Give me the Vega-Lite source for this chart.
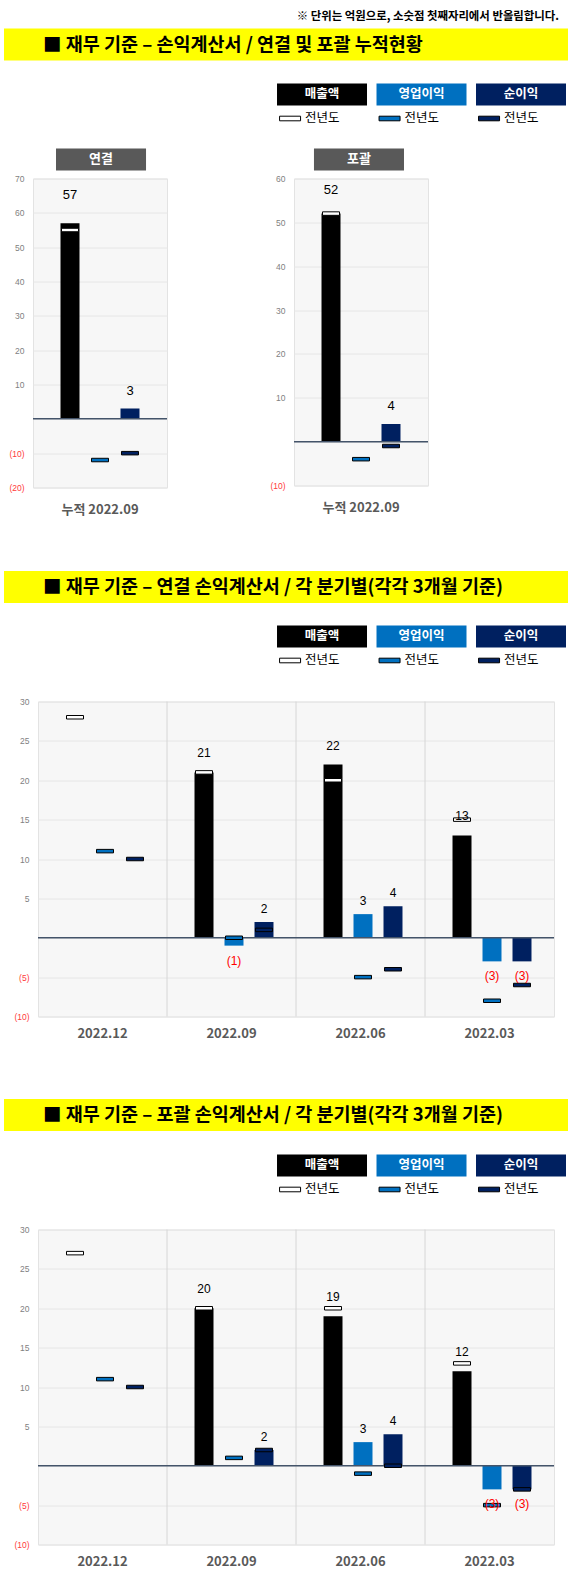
{
  "$schema": "https://vega.github.io/schema/vega-lite/v6.json",
  "description": "재무 기준 손익계산서: 누적 현황(연결/포괄)과 분기별 매출액, 영업이익, 순이익 및 전년도 비교",
  "background": "white",
  "padding": {"left": 4, "top": 10.5, "right": 6, "bottom": 6},
  "title": {
    "text": "※ 단위는 억원으로, 소숫점 첫째자리에서 반올림합니다.",
    "anchor": "end", "frame": "bounds", "dx": -9, "offset": 0, "baseline": "middle",
    "font": "Noto Sans CJK KR", "fontSize": 11.4, "fontWeight": "bold", "color": "#000000"
  },
  "spacing": 0,
  "datasets": {
    "legend": [
      {"metric": "매출액"}, {"metric": "영업이익"}, {"metric": "순이익"}
    ],
    "cum_con": [
      {"period": "누적 2022.09", "metric": "매출액", "value": 57, "prior": 55},
      {"period": "누적 2022.09", "metric": "영업이익", "value": 0, "prior": -12},
      {"period": "누적 2022.09", "metric": "순이익", "value": 3, "prior": -10}
    ],
    "cum_com": [
      {"period": "누적 2022.09", "metric": "매출액", "value": 52, "prior": 52},
      {"period": "누적 2022.09", "metric": "영업이익", "value": 0, "prior": -4},
      {"period": "누적 2022.09", "metric": "순이익", "value": 4, "prior": -1}
    ],
    "q_con": [
      {"quarter": "2022.12", "metric": "매출액", "value": null, "prior": 28},
      {"quarter": "2022.12", "metric": "영업이익", "value": null, "prior": 11},
      {"quarter": "2022.12", "metric": "순이익", "value": null, "prior": 10},
      {"quarter": "2022.09", "metric": "매출액", "value": 21, "prior": 21},
      {"quarter": "2022.09", "metric": "영업이익", "value": -1, "prior": 0},
      {"quarter": "2022.09", "metric": "순이익", "value": 2, "prior": 1},
      {"quarter": "2022.06", "metric": "매출액", "value": 22, "prior": 20},
      {"quarter": "2022.06", "metric": "영업이익", "value": 3, "prior": -5},
      {"quarter": "2022.06", "metric": "순이익", "value": 4, "prior": -4},
      {"quarter": "2022.03", "metric": "매출액", "value": 13, "prior": 15},
      {"quarter": "2022.03", "metric": "영업이익", "value": -3, "prior": -8},
      {"quarter": "2022.03", "metric": "순이익", "value": -3, "prior": -6}
    ],
    "q_com": [
      {"quarter": "2022.12", "metric": "매출액", "value": null, "prior": 27},
      {"quarter": "2022.12", "metric": "영업이익", "value": null, "prior": 11},
      {"quarter": "2022.12", "metric": "순이익", "value": null, "prior": 10},
      {"quarter": "2022.09", "metric": "매출액", "value": 20, "prior": 20},
      {"quarter": "2022.09", "metric": "영업이익", "value": 0, "prior": 1},
      {"quarter": "2022.09", "metric": "순이익", "value": 2, "prior": 2},
      {"quarter": "2022.06", "metric": "매출액", "value": 19, "prior": 20},
      {"quarter": "2022.06", "metric": "영업이익", "value": 3, "prior": -1},
      {"quarter": "2022.06", "metric": "순이익", "value": 4, "prior": 0},
      {"quarter": "2022.03", "metric": "매출액", "value": 12, "prior": 13},
      {"quarter": "2022.03", "metric": "영업이익", "value": -3, "prior": -5},
      {"quarter": "2022.03", "metric": "순이익", "value": -3, "prior": -3}
    ]
  },
  "vconcat": [
    {
      "width": 564, "height": 32,
      "data": {"values": [{"label": "■ 재무 기준 – 손익계산서 / 연결 및 포괄 누적현황"}]},
      "layer": [
        {"mark": {"type": "rect", "color": "#ffff00"}},
        {
          "mark": {"type": "text", "align": "left", "baseline": "middle", "font": "Noto Sans CJK KR", "fontSize": 18.5, "fontWeight": "bold", "color": "#000000"},
          "encoding": {
            "x": {"field": "label", "type": "nominal", "axis": null, "scale": {"type": "point", "padding": 0, "align": 0.0691}},
            "text": {"field": "label"}
          }
        }
      ]
    },
    {
      "width": 562, "height": 88,
      "data": {"name": "legend"},
      "layer": [
        {
          "mark": {"type": "rect"},
          "encoding": {
            "x": {"field": "metric", "type": "nominal", "axis": null, "scale": {"domain": ["pad1", "pad2", "매출액", "영업이익", "순이익"], "paddingInner": 0.0955, "paddingOuter": 0.372, "align": 1}},
            "y": {"datum": "box", "type": "nominal", "axis": null, "scale": {"domain": ["box", "prior"], "paddingInner": 0.0833, "paddingOuter": 0.875, "align": 0.5476}},
            "color": {"field": "metric", "type": "nominal", "legend": null, "scale": {"domain": ["매출액", "영업이익", "순이익"], "range": ["#000000", "#0070c0", "#002060"]}}
          }
        },
        {
          "mark": {"type": "text", "color": "#ffffff", "font": "Noto Sans CJK KR", "fontSize": 12.5, "fontWeight": "bold"},
          "encoding": {
            "x": {"field": "metric", "type": "nominal", "axis": null},
            "y": {"datum": "box", "type": "nominal", "axis": null},
            "text": {"field": "metric"}
          }
        },
        {
          "mark": {"type": "point", "shape": "M-1,-0.22L1,-0.22L1,0.22L-1,0.22Z", "size": 441, "filled": true, "opacity": 1, "stroke": "#000000", "strokeWidth": 1},
          "encoding": {
            "x": {"field": "metric", "type": "nominal", "axis": null, "bandPosition": 0.145},
            "y": {"datum": "prior", "type": "nominal", "axis": null},
            "fill": {"field": "metric", "type": "nominal", "legend": null, "scale": {"domain": ["매출액", "영업이익", "순이익"], "range": ["#ffffff", "#0070c0", "#002060"]}}
          }
        },
        {
          "mark": {"type": "text", "align": "left", "color": "#000000", "font": "Noto Sans CJK KR", "fontSize": 12.5},
          "encoding": {
            "x": {"field": "metric", "type": "nominal", "axis": null, "bandPosition": 0.31},
            "y": {"datum": "prior", "type": "nominal", "axis": null},
            "text": {"value": "전년도"}
          }
        }
      ]
    },
    {
      "width": 452, "height": 25,
      "data": {"values": [{"chart": "연결"}, {"chart": "포괄"}]},
      "layer": [
        {
          "mark": {"type": "rect", "color": "#595959"},
          "encoding": {
            "x": {"field": "chart", "type": "nominal", "axis": null, "scale": {"domain": ["연결", "포괄"], "paddingInner": 0.651, "paddingOuter": 0.2016}},
            "y": {"datum": "t", "type": "nominal", "axis": null, "scale": {"domain": ["t"], "paddingInner": 0, "paddingOuter": 0.0682, "align": 0}}
          }
        },
        {
          "mark": {"type": "text", "color": "#ffffff", "font": "Noto Sans CJK KR", "fontSize": 13, "fontWeight": "bold"},
          "encoding": {
            "x": {"field": "chart", "type": "nominal", "axis": null},
            "y": {"datum": "t", "type": "nominal", "axis": null},
            "text": {"field": "chart"}
          }
        }
      ]
    },
    {
      "spacing": 0,
      "align": "none",
      "hconcat": [
        {"width": 1, "height": 1, "data": {"values": [{}]}, "mark": {"type": "rect", "opacity": 0}},
        {
          "width": 134, "height": 309,
          "view": {"fill": "#f7f7f7", "stroke": "#e3e3e3"},
          "data": {"name": "cum_con"},
          "layer": [
            {
              "mark": {"type": "bar"},
              "encoding": {
                "x": {"field": "period", "type": "nominal", "title": null, "scale": {"paddingInner": 0, "paddingOuter": 0},
                  "axis": {"title": null, "labelAngle": 0, "domain": false, "ticks": false, "grid": false, "labelPadding": 15.5, "labelFont": "Noto Sans CJK KR", "labelFontSize": 13, "labelFontWeight": "bold", "labelColor": "#595959"}},
                "xOffset": {"field": "metric", "type": "nominal", "scale": {"domain": ["매출액", "영업이익", "순이익"], "paddingInner": 0.367, "paddingOuter": 0.917}},
                "y": {"field": "value", "type": "quantitative", "title": null, "scale": {"domain": [-20, 70], "nice": false},
                  "axis": {"title": null, "values": [-20, -10, 0, 10, 20, 30, 40, 50, 60, 70], "domain": false, "ticks": false, "labelPadding": 9, "labelFont": "Liberation Sans", "labelFontSize": 8.5, "labelOverlap": false,
                    "labelColor": {"condition": {"test": "datum.value < 0", "value": "#ff3b3b"}, "value": "#7f7f7f"},
                    "labelExpr": "datum.value < 0 ? '(' + abs(datum.value) + ')' : (datum.value == 0 ? '' : datum.label)",
                    "gridColor": "#e6e6e6", "minExtent": 27, "maxExtent": 27}},
                "color": {"field": "metric", "type": "nominal", "legend": null, "scale": {"domain": ["매출액", "영업이익", "순이익"], "range": ["#000000", "#0070c0", "#002060"]}}
              }
            },
            {
              "data": {"values": [{}]},
              "mark": {"type": "rule", "color": "#44546a", "strokeWidth": 1.5},
              "encoding": {
                "y": {"datum": 0, "type": "quantitative", "title": null, "scale": {"domain": [-20, 70], "nice": false},
                  "axis": {"title": null, "values": [-20, -10, 0, 10, 20, 30, 40, 50, 60, 70], "domain": false, "ticks": false, "labelPadding": 9, "labelFont": "Liberation Sans", "labelFontSize": 8.5, "labelOverlap": false,
                    "labelColor": {"condition": {"test": "datum.value < 0", "value": "#ff3b3b"}, "value": "#7f7f7f"},
                    "labelExpr": "datum.value < 0 ? '(' + abs(datum.value) + ')' : (datum.value == 0 ? '' : datum.label)",
                    "gridColor": "#e6e6e6", "minExtent": 27, "maxExtent": 27}}
              }
            },
            {
              "mark": {"type": "tick", "orient": "horizontal", "size": 17, "thickness": 3.5, "opacity": 1, "stroke": "#000000", "strokeWidth": 1},
              "encoding": {
                "x": {"field": "period", "type": "nominal", "title": null,
                  "axis": {"title": null, "labelAngle": 0, "domain": false, "ticks": false, "grid": false, "labelPadding": 15.5, "labelFont": "Noto Sans CJK KR", "labelFontSize": 13, "labelFontWeight": "bold", "labelColor": "#595959"}},
                "xOffset": {"field": "metric", "type": "nominal"},
                "y": {"field": "prior", "type": "quantitative", "title": null, "scale": {"domain": [-20, 70], "nice": false},
                  "axis": {"title": null, "values": [-20, -10, 0, 10, 20, 30, 40, 50, 60, 70], "domain": false, "ticks": false, "labelPadding": 9, "labelFont": "Liberation Sans", "labelFontSize": 8.5, "labelOverlap": false,
                    "labelColor": {"condition": {"test": "datum.value < 0", "value": "#ff3b3b"}, "value": "#7f7f7f"},
                    "labelExpr": "datum.value < 0 ? '(' + abs(datum.value) + ')' : (datum.value == 0 ? '' : datum.label)",
                    "gridColor": "#e6e6e6", "minExtent": 27, "maxExtent": 27}},
                "fill": {"field": "metric", "type": "nominal", "legend": null, "scale": {"domain": ["매출액", "영업이익", "순이익"], "range": ["#ffffff", "#0070c0", "#002060"]}}
              }
            },
            {
              "transform": [{"filter": "datum.metric == '매출액' && datum.value > 0"}],
              "mark": {"type": "text", "dy": -28, "baseline": "middle", "font": "Liberation Sans", "fontSize": 13, "color": "#000000"},
              "encoding": {
                "x": {"field": "period", "type": "nominal", "title": null,
                  "axis": {"title": null, "labelAngle": 0, "domain": false, "ticks": false, "grid": false, "labelPadding": 15.5, "labelFont": "Noto Sans CJK KR", "labelFontSize": 13, "labelFontWeight": "bold", "labelColor": "#595959"}},
                "xOffset": {"field": "metric", "type": "nominal"},
                "y": {"field": "value", "type": "quantitative", "title": null, "scale": {"domain": [-20, 70], "nice": false},
                  "axis": {"title": null, "values": [-20, -10, 0, 10, 20, 30, 40, 50, 60, 70], "domain": false, "ticks": false, "labelPadding": 9, "labelFont": "Liberation Sans", "labelFontSize": 8.5, "labelOverlap": false,
                    "labelColor": {"condition": {"test": "datum.value < 0", "value": "#ff3b3b"}, "value": "#7f7f7f"},
                    "labelExpr": "datum.value < 0 ? '(' + abs(datum.value) + ')' : (datum.value == 0 ? '' : datum.label)",
                    "gridColor": "#e6e6e6", "minExtent": 27, "maxExtent": 27}},
                "text": {"field": "value", "type": "quantitative", "format": "(.0f"}
              }
            },
            {
              "transform": [{"filter": "datum.metric != '매출액' && datum.value > 0"}],
              "mark": {"type": "text", "dy": -18, "baseline": "middle", "font": "Liberation Sans", "fontSize": 13, "color": "#000000"},
              "encoding": {
                "x": {"field": "period", "type": "nominal", "title": null,
                  "axis": {"title": null, "labelAngle": 0, "domain": false, "ticks": false, "grid": false, "labelPadding": 15.5, "labelFont": "Noto Sans CJK KR", "labelFontSize": 13, "labelFontWeight": "bold", "labelColor": "#595959"}},
                "xOffset": {"field": "metric", "type": "nominal"},
                "y": {"field": "value", "type": "quantitative", "title": null, "scale": {"domain": [-20, 70], "nice": false},
                  "axis": {"title": null, "values": [-20, -10, 0, 10, 20, 30, 40, 50, 60, 70], "domain": false, "ticks": false, "labelPadding": 9, "labelFont": "Liberation Sans", "labelFontSize": 8.5, "labelOverlap": false,
                    "labelColor": {"condition": {"test": "datum.value < 0", "value": "#ff3b3b"}, "value": "#7f7f7f"},
                    "labelExpr": "datum.value < 0 ? '(' + abs(datum.value) + ')' : (datum.value == 0 ? '' : datum.label)",
                    "gridColor": "#e6e6e6", "minExtent": 27, "maxExtent": 27}},
                "text": {"field": "value", "type": "quantitative", "format": "(.0f"}
              }
            }
          ]
        },
        {
          "width": 134, "height": 307,
          "view": {"fill": "#f7f7f7", "stroke": "#e3e3e3"},
          "data": {"name": "cum_com"},
          "layer": [
            {
              "mark": {"type": "bar"},
              "encoding": {
                "x": {"field": "period", "type": "nominal", "title": null, "scale": {"paddingInner": 0, "paddingOuter": 0},
                  "axis": {"title": null, "labelAngle": 0, "domain": false, "ticks": false, "grid": false, "labelPadding": 15.5, "labelFont": "Noto Sans CJK KR", "labelFontSize": 13, "labelFontWeight": "bold", "labelColor": "#595959"}},
                "xOffset": {"field": "metric", "type": "nominal", "scale": {"domain": ["매출액", "영업이익", "순이익"], "paddingInner": 0.367, "paddingOuter": 0.917}},
                "y": {"field": "value", "type": "quantitative", "title": null, "scale": {"domain": [-10, 60], "nice": false},
                  "axis": {"title": null, "values": [-10, 0, 10, 20, 30, 40, 50, 60], "domain": false, "ticks": false, "labelPadding": 9, "labelFont": "Liberation Sans", "labelFontSize": 8.5, "labelOverlap": false,
                    "labelColor": {"condition": {"test": "datum.value < 0", "value": "#ff3b3b"}, "value": "#7f7f7f"},
                    "labelExpr": "datum.value < 0 ? '(' + abs(datum.value) + ')' : (datum.value == 0 ? '' : datum.label)",
                    "gridColor": "#e6e6e6", "minExtent": 124, "maxExtent": 124}},
                "color": {"field": "metric", "type": "nominal", "legend": null, "scale": {"domain": ["매출액", "영업이익", "순이익"], "range": ["#000000", "#0070c0", "#002060"]}}
              }
            },
            {
              "data": {"values": [{}]},
              "mark": {"type": "rule", "color": "#44546a", "strokeWidth": 1.5},
              "encoding": {
                "y": {"datum": 0, "type": "quantitative", "title": null, "scale": {"domain": [-10, 60], "nice": false},
                  "axis": {"title": null, "values": [-10, 0, 10, 20, 30, 40, 50, 60], "domain": false, "ticks": false, "labelPadding": 9, "labelFont": "Liberation Sans", "labelFontSize": 8.5, "labelOverlap": false,
                    "labelColor": {"condition": {"test": "datum.value < 0", "value": "#ff3b3b"}, "value": "#7f7f7f"},
                    "labelExpr": "datum.value < 0 ? '(' + abs(datum.value) + ')' : (datum.value == 0 ? '' : datum.label)",
                    "gridColor": "#e6e6e6", "minExtent": 124, "maxExtent": 124}}
              }
            },
            {
              "mark": {"type": "tick", "orient": "horizontal", "size": 17, "thickness": 3.5, "opacity": 1, "stroke": "#000000", "strokeWidth": 1},
              "encoding": {
                "x": {"field": "period", "type": "nominal", "title": null,
                  "axis": {"title": null, "labelAngle": 0, "domain": false, "ticks": false, "grid": false, "labelPadding": 15.5, "labelFont": "Noto Sans CJK KR", "labelFontSize": 13, "labelFontWeight": "bold", "labelColor": "#595959"}},
                "xOffset": {"field": "metric", "type": "nominal"},
                "y": {"field": "prior", "type": "quantitative", "title": null, "scale": {"domain": [-10, 60], "nice": false},
                  "axis": {"title": null, "values": [-10, 0, 10, 20, 30, 40, 50, 60], "domain": false, "ticks": false, "labelPadding": 9, "labelFont": "Liberation Sans", "labelFontSize": 8.5, "labelOverlap": false,
                    "labelColor": {"condition": {"test": "datum.value < 0", "value": "#ff3b3b"}, "value": "#7f7f7f"},
                    "labelExpr": "datum.value < 0 ? '(' + abs(datum.value) + ')' : (datum.value == 0 ? '' : datum.label)",
                    "gridColor": "#e6e6e6", "minExtent": 124, "maxExtent": 124}},
                "fill": {"field": "metric", "type": "nominal", "legend": null, "scale": {"domain": ["매출액", "영업이익", "순이익"], "range": ["#ffffff", "#0070c0", "#002060"]}}
              }
            },
            {
              "transform": [{"filter": "datum.metric == '매출액' && datum.value > 0"}],
              "mark": {"type": "text", "dy": -24, "baseline": "middle", "font": "Liberation Sans", "fontSize": 13, "color": "#000000"},
              "encoding": {
                "x": {"field": "period", "type": "nominal", "title": null,
                  "axis": {"title": null, "labelAngle": 0, "domain": false, "ticks": false, "grid": false, "labelPadding": 15.5, "labelFont": "Noto Sans CJK KR", "labelFontSize": 13, "labelFontWeight": "bold", "labelColor": "#595959"}},
                "xOffset": {"field": "metric", "type": "nominal"},
                "y": {"field": "value", "type": "quantitative", "title": null, "scale": {"domain": [-10, 60], "nice": false},
                  "axis": {"title": null, "values": [-10, 0, 10, 20, 30, 40, 50, 60], "domain": false, "ticks": false, "labelPadding": 9, "labelFont": "Liberation Sans", "labelFontSize": 8.5, "labelOverlap": false,
                    "labelColor": {"condition": {"test": "datum.value < 0", "value": "#ff3b3b"}, "value": "#7f7f7f"},
                    "labelExpr": "datum.value < 0 ? '(' + abs(datum.value) + ')' : (datum.value == 0 ? '' : datum.label)",
                    "gridColor": "#e6e6e6", "minExtent": 124, "maxExtent": 124}},
                "text": {"field": "value", "type": "quantitative", "format": "(.0f"}
              }
            },
            {
              "transform": [{"filter": "datum.metric != '매출액' && datum.value > 0"}],
              "mark": {"type": "text", "dy": -18, "baseline": "middle", "font": "Liberation Sans", "fontSize": 13, "color": "#000000"},
              "encoding": {
                "x": {"field": "period", "type": "nominal", "title": null,
                  "axis": {"title": null, "labelAngle": 0, "domain": false, "ticks": false, "grid": false, "labelPadding": 15.5, "labelFont": "Noto Sans CJK KR", "labelFontSize": 13, "labelFontWeight": "bold", "labelColor": "#595959"}},
                "xOffset": {"field": "metric", "type": "nominal"},
                "y": {"field": "value", "type": "quantitative", "title": null, "scale": {"domain": [-10, 60], "nice": false},
                  "axis": {"title": null, "values": [-10, 0, 10, 20, 30, 40, 50, 60], "domain": false, "ticks": false, "labelPadding": 9, "labelFont": "Liberation Sans", "labelFontSize": 8.5, "labelOverlap": false,
                    "labelColor": {"condition": {"test": "datum.value < 0", "value": "#ff3b3b"}, "value": "#7f7f7f"},
                    "labelExpr": "datum.value < 0 ? '(' + abs(datum.value) + ')' : (datum.value == 0 ? '' : datum.label)",
                    "gridColor": "#e6e6e6", "minExtent": 124, "maxExtent": 124}},
                "text": {"field": "value", "type": "quantitative", "format": "(.0f"}
              }
            }
          ]
        }
      ]
    },
    {
      "width": 564, "height": 86.5,
      "data": {"values": [{"label": "■ 재무 기준 – 연결 손익계산서 / 각 분기별(각각 3개월 기준)"}]},
      "layer": [
        {
          "mark": {"type": "rect", "color": "#ffff00"},
          "encoding": {"y": {"datum": "b", "type": "nominal", "axis": null, "scale": {"domain": ["b"], "paddingInner": 0, "paddingOuter": 0.8516, "align": 1}}}
        },
        {
          "mark": {"type": "text", "align": "left", "baseline": "middle", "font": "Noto Sans CJK KR", "fontSize": 18.5, "fontWeight": "bold", "color": "#000000"},
          "encoding": {
            "x": {"field": "label", "type": "nominal", "axis": null, "scale": {"type": "point", "padding": 0, "align": 0.0691}},
            "y": {"datum": "b", "type": "nominal", "axis": null},
            "text": {"field": "label"}
          }
        }
      ]
    },
    {
      "width": 562, "height": 93,
      "data": {"name": "legend"},
      "layer": [
        {
          "mark": {"type": "rect"},
          "encoding": {
            "x": {"field": "metric", "type": "nominal", "axis": null, "scale": {"domain": ["pad1", "pad2", "매출액", "영업이익", "순이익"], "paddingInner": 0.0955, "paddingOuter": 0.372, "align": 1}},
            "y": {"datum": "box", "type": "nominal", "axis": null, "scale": {"domain": ["box", "prior"], "paddingInner": 0.0833, "paddingOuter": 0.979, "align": 0.468}},
            "color": {"field": "metric", "type": "nominal", "legend": null, "scale": {"domain": ["매출액", "영업이익", "순이익"], "range": ["#000000", "#0070c0", "#002060"]}}
          }
        },
        {
          "mark": {"type": "text", "color": "#ffffff", "font": "Noto Sans CJK KR", "fontSize": 12.5, "fontWeight": "bold"},
          "encoding": {
            "x": {"field": "metric", "type": "nominal", "axis": null},
            "y": {"datum": "box", "type": "nominal", "axis": null},
            "text": {"field": "metric"}
          }
        },
        {
          "mark": {"type": "point", "shape": "M-1,-0.22L1,-0.22L1,0.22L-1,0.22Z", "size": 441, "filled": true, "opacity": 1, "stroke": "#000000", "strokeWidth": 1},
          "encoding": {
            "x": {"field": "metric", "type": "nominal", "axis": null, "bandPosition": 0.145},
            "y": {"datum": "prior", "type": "nominal", "axis": null},
            "fill": {"field": "metric", "type": "nominal", "legend": null, "scale": {"domain": ["매출액", "영업이익", "순이익"], "range": ["#ffffff", "#0070c0", "#002060"]}}
          }
        },
        {
          "mark": {"type": "text", "align": "left", "color": "#000000", "font": "Noto Sans CJK KR", "fontSize": 12.5},
          "encoding": {
            "x": {"field": "metric", "type": "nominal", "axis": null, "bandPosition": 0.31},
            "y": {"datum": "prior", "type": "nominal", "axis": null},
            "text": {"value": "전년도"}
          }
        }
      ]
    },
    {
      "spacing": 0,
      "align": "none",
      "hconcat": [
        {"width": 1, "height": 1, "data": {"values": [{}]}, "mark": {"type": "rect", "opacity": 0}},
        {
          "width": 516, "height": 315,
          "view": {"fill": "#f7f7f7", "stroke": "#e3e3e3"},
          "data": {"name": "q_con"},
          "layer": [
            {
              "transform": [{"filter": "datum.metric == '매출액' && datum.quarter != '2022.12'"}],
              "mark": {"type": "rule", "color": "#d6d6d6", "strokeWidth": 1},
              "encoding": {
                "x": {"field": "quarter", "type": "nominal", "bandPosition": 0, "title": null, "scale": {"domain": ["2022.12", "2022.09", "2022.06", "2022.03"], "paddingInner": 0, "paddingOuter": 0},
                  "axis": {"title": null, "labelAngle": 0, "domain": false, "ticks": false, "grid": false, "labelPadding": 10.5, "labelFont": "Noto Sans CJK KR", "labelFontSize": 13, "labelFontWeight": "bold", "labelColor": "#595959"}}
              }
            },
            {
              "transform": [{"filter": "datum.value != null"}],
              "mark": {"type": "bar"},
              "encoding": {
                "x": {"field": "quarter", "type": "nominal", "title": null, "scale": {"domain": ["2022.12", "2022.09", "2022.06", "2022.03"], "paddingInner": 0, "paddingOuter": 0},
                  "axis": {"title": null, "labelAngle": 0, "domain": false, "ticks": false, "grid": false, "labelPadding": 10.5, "labelFont": "Noto Sans CJK KR", "labelFontSize": 13, "labelFontWeight": "bold", "labelColor": "#595959"}},
                "xOffset": {"field": "metric", "type": "nominal", "scale": {"domain": ["매출액", "영업이익", "순이익"], "paddingInner": 0.345, "paddingOuter": 0.897}},
                "y": {"field": "value", "type": "quantitative", "title": null, "scale": {"domain": [-10, 30], "nice": false},
                  "axis": {"title": null, "values": [-10, -5, 0, 5, 10, 15, 20, 25, 30], "domain": false, "ticks": false, "labelPadding": 9, "labelFont": "Liberation Sans", "labelFontSize": 8.5, "labelOverlap": false,
                    "labelColor": {"condition": {"test": "datum.value < 0", "value": "#ff3b3b"}, "value": "#7f7f7f"},
                    "labelExpr": "datum.value < 0 ? '(' + abs(datum.value) + ')' : (datum.value == 0 ? '' : datum.label)",
                    "gridColor": "#e6e6e6", "minExtent": 32, "maxExtent": 32}},
                "color": {"field": "metric", "type": "nominal", "legend": null, "scale": {"domain": ["매출액", "영업이익", "순이익"], "range": ["#000000", "#0070c0", "#002060"]}}
              }
            },
            {
              "data": {"values": [{}]},
              "mark": {"type": "rule", "color": "#44546a", "strokeWidth": 1.5},
              "encoding": {
                "y": {"datum": 0, "type": "quantitative", "title": null, "scale": {"domain": [-10, 30], "nice": false},
                  "axis": {"title": null, "values": [-10, -5, 0, 5, 10, 15, 20, 25, 30], "domain": false, "ticks": false, "labelPadding": 9, "labelFont": "Liberation Sans", "labelFontSize": 8.5, "labelOverlap": false,
                    "labelColor": {"condition": {"test": "datum.value < 0", "value": "#ff3b3b"}, "value": "#7f7f7f"},
                    "labelExpr": "datum.value < 0 ? '(' + abs(datum.value) + ')' : (datum.value == 0 ? '' : datum.label)",
                    "gridColor": "#e6e6e6", "minExtent": 32, "maxExtent": 32}}
              }
            },
            {
              "mark": {"type": "tick", "orient": "horizontal", "size": 17, "thickness": 3.5, "opacity": 1, "stroke": "#000000", "strokeWidth": 1},
              "encoding": {
                "x": {"field": "quarter", "type": "nominal", "title": null,
                  "axis": {"title": null, "labelAngle": 0, "domain": false, "ticks": false, "grid": false, "labelPadding": 10.5, "labelFont": "Noto Sans CJK KR", "labelFontSize": 13, "labelFontWeight": "bold", "labelColor": "#595959"}},
                "xOffset": {"field": "metric", "type": "nominal"},
                "y": {"field": "prior", "type": "quantitative", "title": null, "scale": {"domain": [-10, 30], "nice": false},
                  "axis": {"title": null, "values": [-10, -5, 0, 5, 10, 15, 20, 25, 30], "domain": false, "ticks": false, "labelPadding": 9, "labelFont": "Liberation Sans", "labelFontSize": 8.5, "labelOverlap": false,
                    "labelColor": {"condition": {"test": "datum.value < 0", "value": "#ff3b3b"}, "value": "#7f7f7f"},
                    "labelExpr": "datum.value < 0 ? '(' + abs(datum.value) + ')' : (datum.value == 0 ? '' : datum.label)",
                    "gridColor": "#e6e6e6", "minExtent": 32, "maxExtent": 32}},
                "fill": {"field": "metric", "type": "nominal", "legend": null, "scale": {"domain": ["매출액", "영업이익", "순이익"], "range": ["#ffffff", "#0070c0", "#002060"]}}
              }
            },
            {
              "transform": [{"filter": "datum.metric == '매출액' && datum.value > 0"}],
              "mark": {"type": "text", "dy": -19, "baseline": "middle", "font": "Liberation Sans", "fontSize": 12, "color": "#000000"},
              "encoding": {
                "x": {"field": "quarter", "type": "nominal", "title": null,
                  "axis": {"title": null, "labelAngle": 0, "domain": false, "ticks": false, "grid": false, "labelPadding": 10.5, "labelFont": "Noto Sans CJK KR", "labelFontSize": 13, "labelFontWeight": "bold", "labelColor": "#595959"}},
                "xOffset": {"field": "metric", "type": "nominal"},
                "y": {"field": "value", "type": "quantitative", "title": null, "scale": {"domain": [-10, 30], "nice": false},
                  "axis": {"title": null, "values": [-10, -5, 0, 5, 10, 15, 20, 25, 30], "domain": false, "ticks": false, "labelPadding": 9, "labelFont": "Liberation Sans", "labelFontSize": 8.5, "labelOverlap": false,
                    "labelColor": {"condition": {"test": "datum.value < 0", "value": "#ff3b3b"}, "value": "#7f7f7f"},
                    "labelExpr": "datum.value < 0 ? '(' + abs(datum.value) + ')' : (datum.value == 0 ? '' : datum.label)",
                    "gridColor": "#e6e6e6", "minExtent": 32, "maxExtent": 32}},
                "text": {"field": "value", "type": "quantitative", "format": "(.0f"}
              }
            },
            {
              "transform": [{"filter": "datum.metric != '매출액' && datum.value > 0"}],
              "mark": {"type": "text", "dy": -13, "baseline": "middle", "font": "Liberation Sans", "fontSize": 12, "color": "#000000"},
              "encoding": {
                "x": {"field": "quarter", "type": "nominal", "title": null,
                  "axis": {"title": null, "labelAngle": 0, "domain": false, "ticks": false, "grid": false, "labelPadding": 10.5, "labelFont": "Noto Sans CJK KR", "labelFontSize": 13, "labelFontWeight": "bold", "labelColor": "#595959"}},
                "xOffset": {"field": "metric", "type": "nominal"},
                "y": {"field": "value", "type": "quantitative", "title": null, "scale": {"domain": [-10, 30], "nice": false},
                  "axis": {"title": null, "values": [-10, -5, 0, 5, 10, 15, 20, 25, 30], "domain": false, "ticks": false, "labelPadding": 9, "labelFont": "Liberation Sans", "labelFontSize": 8.5, "labelOverlap": false,
                    "labelColor": {"condition": {"test": "datum.value < 0", "value": "#ff3b3b"}, "value": "#7f7f7f"},
                    "labelExpr": "datum.value < 0 ? '(' + abs(datum.value) + ')' : (datum.value == 0 ? '' : datum.label)",
                    "gridColor": "#e6e6e6", "minExtent": 32, "maxExtent": 32}},
                "text": {"field": "value", "type": "quantitative", "format": "(.0f"}
              }
            },
            {
              "transform": [{"filter": "datum.value != null && datum.value < 0"}],
              "mark": {"type": "text", "dy": 15, "baseline": "middle", "font": "Liberation Sans", "fontSize": 12, "color": "#ff0000"},
              "encoding": {
                "x": {"field": "quarter", "type": "nominal", "title": null,
                  "axis": {"title": null, "labelAngle": 0, "domain": false, "ticks": false, "grid": false, "labelPadding": 10.5, "labelFont": "Noto Sans CJK KR", "labelFontSize": 13, "labelFontWeight": "bold", "labelColor": "#595959"}},
                "xOffset": {"field": "metric", "type": "nominal"},
                "y": {"field": "value", "type": "quantitative", "title": null, "scale": {"domain": [-10, 30], "nice": false},
                  "axis": {"title": null, "values": [-10, -5, 0, 5, 10, 15, 20, 25, 30], "domain": false, "ticks": false, "labelPadding": 9, "labelFont": "Liberation Sans", "labelFontSize": 8.5, "labelOverlap": false,
                    "labelColor": {"condition": {"test": "datum.value < 0", "value": "#ff3b3b"}, "value": "#7f7f7f"},
                    "labelExpr": "datum.value < 0 ? '(' + abs(datum.value) + ')' : (datum.value == 0 ? '' : datum.label)",
                    "gridColor": "#e6e6e6", "minExtent": 32, "maxExtent": 32}},
                "text": {"field": "value", "type": "quantitative", "format": "(.0f"}
              }
            }
          ]
        }
      ]
    },
    {
      "width": 564, "height": 90.5,
      "data": {"values": [{"label": "■ 재무 기준 – 포괄 손익계산서 / 각 분기별(각각 3개월 기준)"}]},
      "layer": [
        {
          "mark": {"type": "rect", "color": "#ffff00"},
          "encoding": {"y": {"datum": "b", "type": "nominal", "axis": null, "scale": {"domain": ["b"], "paddingInner": 0, "paddingOuter": 0.914, "align": 1}}}
        },
        {
          "mark": {"type": "text", "align": "left", "baseline": "middle", "font": "Noto Sans CJK KR", "fontSize": 18.5, "fontWeight": "bold", "color": "#000000"},
          "encoding": {
            "x": {"field": "label", "type": "nominal", "axis": null, "scale": {"type": "point", "padding": 0, "align": 0.0691}},
            "y": {"datum": "b", "type": "nominal", "axis": null},
            "text": {"field": "label"}
          }
        }
      ]
    },
    {
      "width": 562, "height": 93,
      "data": {"name": "legend"},
      "layer": [
        {
          "mark": {"type": "rect"},
          "encoding": {
            "x": {"field": "metric", "type": "nominal", "axis": null, "scale": {"domain": ["pad1", "pad2", "매출액", "영업이익", "순이익"], "paddingInner": 0.0955, "paddingOuter": 0.372, "align": 1}},
            "y": {"datum": "box", "type": "nominal", "axis": null, "scale": {"domain": ["box", "prior"], "paddingInner": 0.0833, "paddingOuter": 0.979, "align": 0.489}},
            "color": {"field": "metric", "type": "nominal", "legend": null, "scale": {"domain": ["매출액", "영업이익", "순이익"], "range": ["#000000", "#0070c0", "#002060"]}}
          }
        },
        {
          "mark": {"type": "text", "color": "#ffffff", "font": "Noto Sans CJK KR", "fontSize": 12.5, "fontWeight": "bold"},
          "encoding": {
            "x": {"field": "metric", "type": "nominal", "axis": null},
            "y": {"datum": "box", "type": "nominal", "axis": null},
            "text": {"field": "metric"}
          }
        },
        {
          "mark": {"type": "point", "shape": "M-1,-0.22L1,-0.22L1,0.22L-1,0.22Z", "size": 441, "filled": true, "opacity": 1, "stroke": "#000000", "strokeWidth": 1},
          "encoding": {
            "x": {"field": "metric", "type": "nominal", "axis": null, "bandPosition": 0.145},
            "y": {"datum": "prior", "type": "nominal", "axis": null},
            "fill": {"field": "metric", "type": "nominal", "legend": null, "scale": {"domain": ["매출액", "영업이익", "순이익"], "range": ["#ffffff", "#0070c0", "#002060"]}}
          }
        },
        {
          "mark": {"type": "text", "align": "left", "color": "#000000", "font": "Noto Sans CJK KR", "fontSize": 12.5},
          "encoding": {
            "x": {"field": "metric", "type": "nominal", "axis": null, "bandPosition": 0.31},
            "y": {"datum": "prior", "type": "nominal", "axis": null},
            "text": {"value": "전년도"}
          }
        }
      ]
    },
    {
      "spacing": 0,
      "align": "none",
      "hconcat": [
        {"width": 1, "height": 1, "data": {"values": [{}]}, "mark": {"type": "rect", "opacity": 0}},
        {
          "width": 516, "height": 315,
          "view": {"fill": "#f7f7f7", "stroke": "#e3e3e3"},
          "data": {"name": "q_com"},
          "layer": [
            {
              "transform": [{"filter": "datum.metric == '매출액' && datum.quarter != '2022.12'"}],
              "mark": {"type": "rule", "color": "#d6d6d6", "strokeWidth": 1},
              "encoding": {
                "x": {"field": "quarter", "type": "nominal", "bandPosition": 0, "title": null, "scale": {"domain": ["2022.12", "2022.09", "2022.06", "2022.03"], "paddingInner": 0, "paddingOuter": 0},
                  "axis": {"title": null, "labelAngle": 0, "domain": false, "ticks": false, "grid": false, "labelPadding": 11, "labelFont": "Noto Sans CJK KR", "labelFontSize": 13, "labelFontWeight": "bold", "labelColor": "#595959"}}
              }
            },
            {
              "transform": [{"filter": "datum.value != null"}],
              "mark": {"type": "bar"},
              "encoding": {
                "x": {"field": "quarter", "type": "nominal", "title": null, "scale": {"domain": ["2022.12", "2022.09", "2022.06", "2022.03"], "paddingInner": 0, "paddingOuter": 0},
                  "axis": {"title": null, "labelAngle": 0, "domain": false, "ticks": false, "grid": false, "labelPadding": 11, "labelFont": "Noto Sans CJK KR", "labelFontSize": 13, "labelFontWeight": "bold", "labelColor": "#595959"}},
                "xOffset": {"field": "metric", "type": "nominal", "scale": {"domain": ["매출액", "영업이익", "순이익"], "paddingInner": 0.345, "paddingOuter": 0.897}},
                "y": {"field": "value", "type": "quantitative", "title": null, "scale": {"domain": [-10, 30], "nice": false},
                  "axis": {"title": null, "values": [-10, -5, 0, 5, 10, 15, 20, 25, 30], "domain": false, "ticks": false, "labelPadding": 9, "labelFont": "Liberation Sans", "labelFontSize": 8.5, "labelOverlap": false,
                    "labelColor": {"condition": {"test": "datum.value < 0", "value": "#ff3b3b"}, "value": "#7f7f7f"},
                    "labelExpr": "datum.value < 0 ? '(' + abs(datum.value) + ')' : (datum.value == 0 ? '' : datum.label)",
                    "gridColor": "#e6e6e6", "minExtent": 32, "maxExtent": 32}},
                "color": {"field": "metric", "type": "nominal", "legend": null, "scale": {"domain": ["매출액", "영업이익", "순이익"], "range": ["#000000", "#0070c0", "#002060"]}}
              }
            },
            {
              "data": {"values": [{}]},
              "mark": {"type": "rule", "color": "#44546a", "strokeWidth": 1.5},
              "encoding": {
                "y": {"datum": 0, "type": "quantitative", "title": null, "scale": {"domain": [-10, 30], "nice": false},
                  "axis": {"title": null, "values": [-10, -5, 0, 5, 10, 15, 20, 25, 30], "domain": false, "ticks": false, "labelPadding": 9, "labelFont": "Liberation Sans", "labelFontSize": 8.5, "labelOverlap": false,
                    "labelColor": {"condition": {"test": "datum.value < 0", "value": "#ff3b3b"}, "value": "#7f7f7f"},
                    "labelExpr": "datum.value < 0 ? '(' + abs(datum.value) + ')' : (datum.value == 0 ? '' : datum.label)",
                    "gridColor": "#e6e6e6", "minExtent": 32, "maxExtent": 32}}
              }
            },
            {
              "mark": {"type": "tick", "orient": "horizontal", "size": 17, "thickness": 3.5, "opacity": 1, "stroke": "#000000", "strokeWidth": 1},
              "encoding": {
                "x": {"field": "quarter", "type": "nominal", "title": null,
                  "axis": {"title": null, "labelAngle": 0, "domain": false, "ticks": false, "grid": false, "labelPadding": 11, "labelFont": "Noto Sans CJK KR", "labelFontSize": 13, "labelFontWeight": "bold", "labelColor": "#595959"}},
                "xOffset": {"field": "metric", "type": "nominal"},
                "y": {"field": "prior", "type": "quantitative", "title": null, "scale": {"domain": [-10, 30], "nice": false},
                  "axis": {"title": null, "values": [-10, -5, 0, 5, 10, 15, 20, 25, 30], "domain": false, "ticks": false, "labelPadding": 9, "labelFont": "Liberation Sans", "labelFontSize": 8.5, "labelOverlap": false,
                    "labelColor": {"condition": {"test": "datum.value < 0", "value": "#ff3b3b"}, "value": "#7f7f7f"},
                    "labelExpr": "datum.value < 0 ? '(' + abs(datum.value) + ')' : (datum.value == 0 ? '' : datum.label)",
                    "gridColor": "#e6e6e6", "minExtent": 32, "maxExtent": 32}},
                "fill": {"field": "metric", "type": "nominal", "legend": null, "scale": {"domain": ["매출액", "영업이익", "순이익"], "range": ["#ffffff", "#0070c0", "#002060"]}}
              }
            },
            {
              "transform": [{"filter": "datum.metric == '매출액' && datum.value > 0"}],
              "mark": {"type": "text", "dy": -19, "baseline": "middle", "font": "Liberation Sans", "fontSize": 12, "color": "#000000"},
              "encoding": {
                "x": {"field": "quarter", "type": "nominal", "title": null,
                  "axis": {"title": null, "labelAngle": 0, "domain": false, "ticks": false, "grid": false, "labelPadding": 11, "labelFont": "Noto Sans CJK KR", "labelFontSize": 13, "labelFontWeight": "bold", "labelColor": "#595959"}},
                "xOffset": {"field": "metric", "type": "nominal"},
                "y": {"field": "value", "type": "quantitative", "title": null, "scale": {"domain": [-10, 30], "nice": false},
                  "axis": {"title": null, "values": [-10, -5, 0, 5, 10, 15, 20, 25, 30], "domain": false, "ticks": false, "labelPadding": 9, "labelFont": "Liberation Sans", "labelFontSize": 8.5, "labelOverlap": false,
                    "labelColor": {"condition": {"test": "datum.value < 0", "value": "#ff3b3b"}, "value": "#7f7f7f"},
                    "labelExpr": "datum.value < 0 ? '(' + abs(datum.value) + ')' : (datum.value == 0 ? '' : datum.label)",
                    "gridColor": "#e6e6e6", "minExtent": 32, "maxExtent": 32}},
                "text": {"field": "value", "type": "quantitative", "format": "(.0f"}
              }
            },
            {
              "transform": [{"filter": "datum.metric != '매출액' && datum.value > 0"}],
              "mark": {"type": "text", "dy": -13, "baseline": "middle", "font": "Liberation Sans", "fontSize": 12, "color": "#000000"},
              "encoding": {
                "x": {"field": "quarter", "type": "nominal", "title": null,
                  "axis": {"title": null, "labelAngle": 0, "domain": false, "ticks": false, "grid": false, "labelPadding": 11, "labelFont": "Noto Sans CJK KR", "labelFontSize": 13, "labelFontWeight": "bold", "labelColor": "#595959"}},
                "xOffset": {"field": "metric", "type": "nominal"},
                "y": {"field": "value", "type": "quantitative", "title": null, "scale": {"domain": [-10, 30], "nice": false},
                  "axis": {"title": null, "values": [-10, -5, 0, 5, 10, 15, 20, 25, 30], "domain": false, "ticks": false, "labelPadding": 9, "labelFont": "Liberation Sans", "labelFontSize": 8.5, "labelOverlap": false,
                    "labelColor": {"condition": {"test": "datum.value < 0", "value": "#ff3b3b"}, "value": "#7f7f7f"},
                    "labelExpr": "datum.value < 0 ? '(' + abs(datum.value) + ')' : (datum.value == 0 ? '' : datum.label)",
                    "gridColor": "#e6e6e6", "minExtent": 32, "maxExtent": 32}},
                "text": {"field": "value", "type": "quantitative", "format": "(.0f"}
              }
            },
            {
              "transform": [{"filter": "datum.value != null && datum.value < 0"}],
              "mark": {"type": "text", "dy": 15, "baseline": "middle", "font": "Liberation Sans", "fontSize": 12, "color": "#ff0000"},
              "encoding": {
                "x": {"field": "quarter", "type": "nominal", "title": null,
                  "axis": {"title": null, "labelAngle": 0, "domain": false, "ticks": false, "grid": false, "labelPadding": 11, "labelFont": "Noto Sans CJK KR", "labelFontSize": 13, "labelFontWeight": "bold", "labelColor": "#595959"}},
                "xOffset": {"field": "metric", "type": "nominal"},
                "y": {"field": "value", "type": "quantitative", "title": null, "scale": {"domain": [-10, 30], "nice": false},
                  "axis": {"title": null, "values": [-10, -5, 0, 5, 10, 15, 20, 25, 30], "domain": false, "ticks": false, "labelPadding": 9, "labelFont": "Liberation Sans", "labelFontSize": 8.5, "labelOverlap": false,
                    "labelColor": {"condition": {"test": "datum.value < 0", "value": "#ff3b3b"}, "value": "#7f7f7f"},
                    "labelExpr": "datum.value < 0 ? '(' + abs(datum.value) + ')' : (datum.value == 0 ? '' : datum.label)",
                    "gridColor": "#e6e6e6", "minExtent": 32, "maxExtent": 32}},
                "text": {"field": "value", "type": "quantitative", "format": "(.0f"}
              }
            }
          ]
        }
      ]
    }
  ],
  "config": {
    "view": {"stroke": null},
    "font": "Noto Sans CJK KR"
  }
}
